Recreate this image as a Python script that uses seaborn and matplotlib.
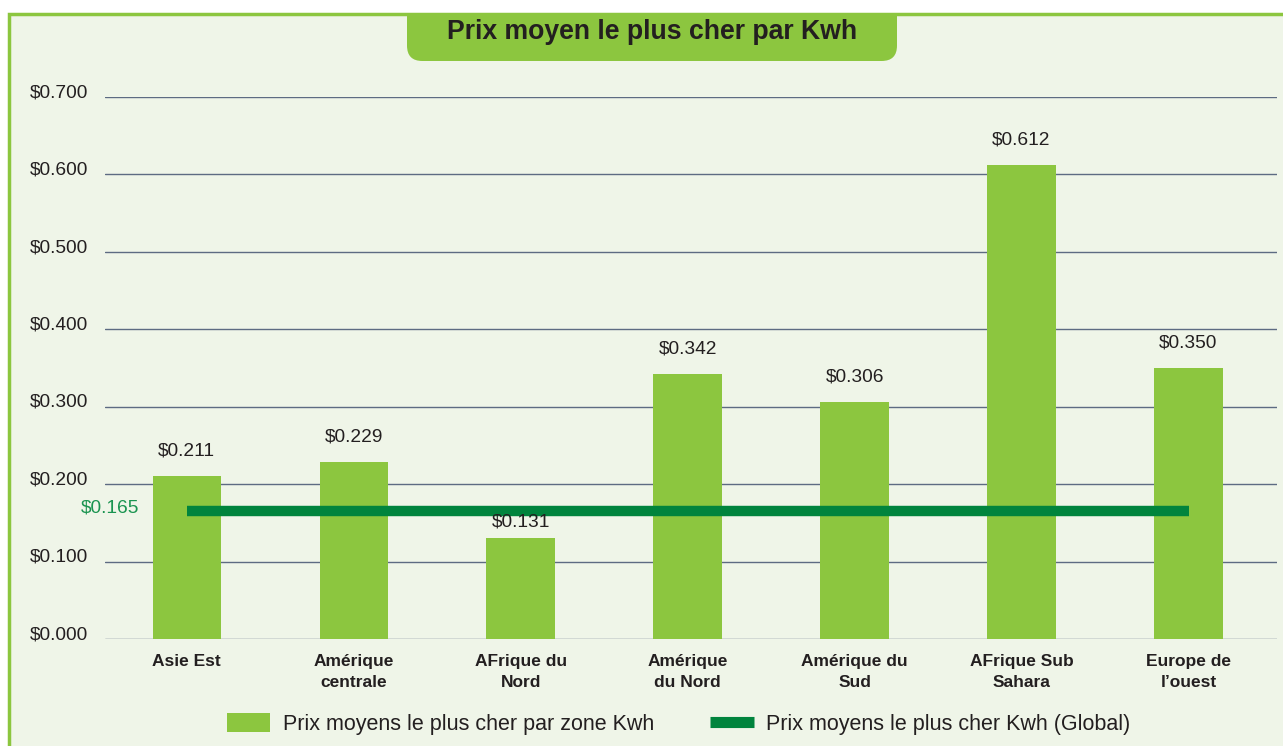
import numpy as np
import pandas as pd
import seaborn as sns
import matplotlib.pyplot as plt
from matplotlib.patches import Rectangle, FancyBboxPatch, Patch
from matplotlib.lines import Line2D
from matplotlib.transforms import ScaledTranslation

sns.set_style("white")
plt.rcParams["font.family"] = ["Liberation Sans", "DejaVu Sans"]

# data
zones = ["Asie Est", "Amérique\ncentrale", "AFrique du\nNord", "Amérique\ndu Nord",
         "Amérique du\nSud", "AFrique Sub\nSahara", "Europe de\nl\u2019ouest"]
prix_zone = [0.211, 0.229, 0.131, 0.342, 0.306, 0.612, 0.350]
prix_global = 0.165
yticks = [0.0, 0.1, 0.2, 0.3, 0.4, 0.5, 0.6, 0.7]

title = "Prix moyen le plus cher par Kwh"
label_bar = "Prix moyens le plus cher par zone Kwh"
label_line = "Prix moyens le plus cher Kwh (Global)"

bar_green = "#8cc63f"
dark_green = "#00843d"
bg = "#eff5e8"
text_col = "#231f20"

W, H = 1283, 746
fig = plt.figure(figsize=(W / 100, H / 100), dpi=100)
fig.patch.set_facecolor("white")

# panel frame
fig.add_artist(Rectangle((9 / W, -0.05), 1.1, (H - 14) / H + 0.05, transform=fig.transFigure,
                         facecolor=bg, edgecolor=bar_green, linewidth=2.5, zorder=0))

# title tab
fig.add_artist(FancyBboxPatch((407 / W, (H - 61) / H), (897 - 407) / W, 40 / H,
                              boxstyle="round,pad=0,rounding_size=0.012",
                              transform=fig.transFigure, facecolor=bar_green,
                              edgecolor="none", zorder=1, mutation_aspect=W / H))
fig.add_artist(Rectangle((407 / W, (H - 40) / H), (897 - 407) / W, 26 / H,
                         transform=fig.transFigure, facecolor=bar_green,
                         edgecolor="none", zorder=1))
fig.text(652 / W, (H - 32) / H, title, ha="center", va="center", fontsize=19.2,
         fontweight="bold", color=text_col, zorder=2)

ax = fig.add_axes([105 / W, 1 - 639 / H, (1277 - 105) / W, (639 - 97) / H])
ax.set_facecolor("none")

df = pd.DataFrame({"zone": zones, "prix": prix_zone})
sns.barplot(data=df, x="zone", y="prix", color=bar_green, saturation=1, width=0.41,
            linewidth=0, ax=ax, zorder=3)
sns.lineplot(x=np.arange(len(zones)), y=np.full(len(zones), prix_global), ax=ax,
             color=dark_green, linewidth=7.5, solid_capstyle="butt", zorder=4)

for i, v in enumerate(prix_zone):
    # labels of bars below the global line sit closer to the bar
    dy = 11 if v < prix_global else 18
    ax.annotate(f"${v:.3f}", (i, v), xytext=(0, dy), textcoords="offset points",
                ha="center", va="center", fontsize=13.8, color=text_col, zorder=5)

ax.annotate(f"${prix_global:.3f}", (-0.49, prix_global), xytext=(24.5, 2),
            textcoords="offset points", ha="right", va="center", fontsize=13.8,
            color="#1a9450", annotation_clip=False, zorder=5)

ax.set_xlim(-0.49, 6.53)
ax.set_ylim(0, 0.7)
ax.set_yticks(yticks)
ax.set_yticklabels([f"${t:.3f}" for t in yticks], fontsize=13.8, color=text_col)
ax.tick_params(axis="y", length=0, pad=12)
ax.tick_params(axis="x", length=0, pad=11)
ax.set_xticks(range(len(zones)))
ax.set_xticklabels(zones, fontsize=12.5, fontweight="bold", color=text_col,
                   family=["Liberation Sans Narrow", "Liberation Sans"], linespacing=1.5)
for lab in ax.get_yticklabels():
    lab.set_transform(lab.get_transform() + ScaledTranslation(0, 4.5 / 72, fig.dpi_scale_trans))
ax.grid(axis="y", color="#5d6b82", linewidth=1)
ax.set_axisbelow(True)
for s in ax.spines.values():
    s.set_visible(False)
ax.set_xlabel("")
ax.set_ylabel("")

handles = [Patch(facecolor=bar_green, edgecolor="none"),
           Line2D([], [], color=dark_green, linewidth=8, solid_capstyle="butt")]
fig.legend(handles, [label_bar, label_line], loc="center", bbox_to_anchor=(679 / W, 1 - 724 / H),
           ncol=2, frameon=False, fontsize=15.5, handlelength=2.0, handleheight=1.0,
           handletextpad=0.6, columnspacing=2.6, labelcolor=text_col)

fig.savefig("out.png", dpi=100)
